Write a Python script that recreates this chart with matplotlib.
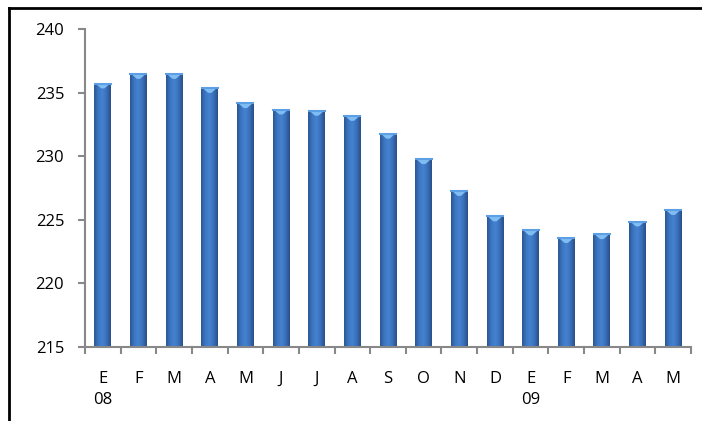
import matplotlib.pyplot as plt
import numpy as np
from matplotlib.colors import LinearSegmentedColormap
from matplotlib.lines import Line2D

months = ['E', 'F', 'M', 'A', 'M', 'J', 'J', 'A', 'S', 'O', 'N', 'D',
          'E', 'F', 'M', 'A', 'M']
years = ['08', '', '', '', '', '', '', '', '', '', '', '',
         '09', '', '', '', '']
values = [235.75, 236.5, 236.5, 235.4, 234.2, 233.7, 233.6, 233.2, 231.8,
          229.8, 227.3, 225.3, 224.2, 223.6, 223.9, 224.9, 225.8]

plt.rcParams['font.family'] = ['Open Sans', 'DejaVu Sans']

fig = plt.figure(figsize=(7.02, 4.21), dpi=100)
ax = fig.add_axes([0.1211, 0.1758, 0.8632, 0.7553])

bar_cmap = LinearSegmentedColormap.from_list(
    'bar', ['#2b5794', '#3d76c2', '#4482d0', '#3a70b9', '#294f88'])
grad = np.linspace(0, 1, 64).reshape(1, -1)

ymin = 215
width = 0.47
for i, v in enumerate(values):
    x0 = i - width / 2
    x1 = i + width / 2
    ax.imshow(grad, cmap=bar_cmap, extent=(x0, x1, ymin, v),
              aspect='auto', zorder=2, interpolation='bilinear')
    # light cap at the top of each bar
    cap = plt.Polygon([(x0 + 0.02, v), (x1 - 0.02, v),
                       (i + width * 0.1, v - 0.42), (i - width * 0.1, v - 0.42)],
                      closed=True, facecolor='#7fbdf3', edgecolor='none', zorder=3)
    ax.add_patch(cap)
    ax.plot([x0 + 0.01, x1 - 0.01], [v - 0.04, v - 0.04], color='#5d9fe4',
            lw=1.5, zorder=3)

ax.set_xlim(-0.5, len(values) - 0.5)
ax.set_ylim(ymin, 240)
ax.set_yticks([215, 220, 225, 230, 235, 240])
ax.tick_params(axis='y', length=5, width=1.5, color='#888888', labelsize=12,
               pad=10, labelcolor='black')

ax.set_xticks(np.arange(len(values)))
ax.set_xticklabels([m + '\n' + y for m, y in zip(months, years)],
                   linespacing=1.45, va='top')
ax.tick_params(axis='x', length=0, labelsize=12, pad=17, labelcolor='black')
ax.set_xticks(np.arange(len(values) + 1) - 0.5, minor=True)
ax.tick_params(axis='x', which='minor', length=5, width=1.5, color='#888888')

for side in ['top', 'right']:
    ax.spines[side].set_visible(False)
for side in ['left', 'bottom']:
    ax.spines[side].set_color('#888888')
    ax.spines[side].set_linewidth(1.5)

# outer frame of the original picture
fig.add_artist(Line2D([9 / 702, 1], [1 - 8 / 421, 1 - 8 / 421],
                      transform=fig.transFigure, color='black', lw=2))
fig.add_artist(Line2D([9 / 702, 9 / 702], [0, 1 - 8 / 421],
                      transform=fig.transFigure, color='black', lw=2))

fig.savefig('out.png', dpi=100)
